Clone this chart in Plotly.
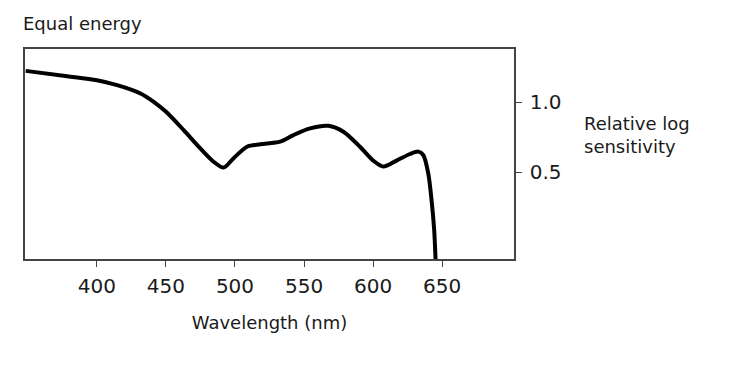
import plotly.graph_objects as go

wavelength = [348.5, 378.6, 400.0, 414.7, 431.6, 441.2, 450.1, 462.9, 474.9, 484.5, 491.8,
              499.0, 508.7, 518.3, 532.7, 542.3, 554.4, 567.6, 578.5, 590.5, 600.1, 607.4,
              617.0, 626.7, 632.7, 636.3, 639.9, 642.3, 644.2, 645.2]
sensitivity = [1.223, 1.185, 1.156, 1.121, 1.062, 1.002, 0.931, 0.80, 0.67, 0.575, 0.533,
               0.60, 0.682, 0.70, 0.718, 0.765, 0.813, 0.831, 0.789, 0.682, 0.583, 0.54,
               0.583, 0.63, 0.647, 0.623, 0.493, 0.303, 0.09, -0.119]
x_ticks = [400, 450, 500, 550, 600, 650]
y_ticks = [0.5, 1.0]
y_tick_labels = ["0.5", "1.0"]

FONT = "DejaVu Sans"
INK = "#1a1a1a"

fig = go.Figure()
fig.add_trace(go.Scatter(
    x=wavelength, y=sensitivity, mode="lines",
    line=dict(color="black", width=4, shape="spline", smoothing=0.8),
    hoverinfo="skip", showlegend=False, cliponaxis=True,
))

fig.update_layout(
    width=733, height=371,
    margin=dict(l=25, r=219, t=49, b=112),
    paper_bgcolor="white", plot_bgcolor="white",
    font=dict(family=FONT, size=18, color=INK),
    xaxis=dict(
        range=[348, 702], tickvals=x_ticks, ticks="outside", ticklen=6, tickwidth=1.3,
        tickcolor="#444", showline=True, linecolor="#444", linewidth=1.5, mirror=True,
        showgrid=False, zeroline=False, tickfont=dict(size=20, family=FONT, color=INK),
        ticklabelstandoff=2,
        title=dict(text="Wavelength (nm)", font=dict(size=18, family=FONT, color=INK), standoff=20),
    ),
    yaxis=dict(
        range=[-0.119, 1.379], tickvals=y_ticks, ticktext=y_tick_labels, side="right",
        ticks="outside", ticklen=6, tickwidth=1.3, tickcolor="#444",
        showline=True, linecolor="#444", linewidth=1.5, mirror=True,
        showgrid=False, zeroline=False, tickfont=dict(size=20, family=FONT, color=INK),
        ticklabelstandoff=4,
    ),
    annotations=[
        dict(text="Equal energy", xref="paper", yref="paper", x=-0.008, y=1.12,
             xanchor="left", yanchor="middle", showarrow=False,
             font=dict(size=18, family=FONT, color=INK)),
        dict(text="Relative log<br>sensitivity", xref="paper", yref="paper", x=1.139, y=0.59,
             xanchor="left", yanchor="middle", align="left", showarrow=False,
             font=dict(size=18, family=FONT, color=INK)),
    ],
)

fig.write_html("out.html", config={"displayModeBar": False},
               post_script="document.body.style.margin='0';document.body.style.padding='0';")
